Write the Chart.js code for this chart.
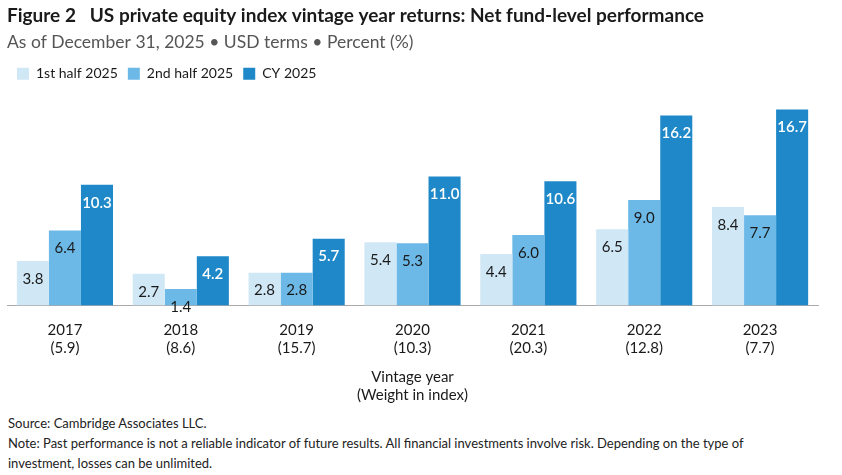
<!DOCTYPE html>
<html>
<head>
<meta charset="utf-8">
<script src="https://cdn.jsdelivr.net/npm/chart.js@4"></script>
<style>
  body { margin: 0; background: #fff; font-family: Lato, sans-serif; }
  #wrap { position: absolute; left: 0; top: 0; width: 842px; height: 405px; }
  .note { position: absolute; left: 8px; font-size: 13px; color: #222; line-height: 20px; }
</style>
</head>
<body>
<div id="wrap"><canvas id="grafico"></canvas></div>
<div class="note" style="top:413px">Source: Cambridge Associates LLC.<br>Note: Past performance is not a reliable indicator of future results. All financial investments involve risk. Depending on the type of<br>investment, losses can be unlimited.</div>
<script>
const years = ['2017', '2018', '2019', '2020', '2021', '2022', '2023'];
const weights = ['(5.9)', '(8.6)', '(15.7)', '(10.3)', '(20.3)', '(12.8)', '(7.7)'];
const firstHalf = [3.8, 2.7, 2.8, 5.4, 4.4, 6.5, 8.4];
const secondHalf = [6.4, 1.4, 2.8, 5.3, 6.0, 9.0, 7.7];
const fullYear = [10.3, 4.2, 5.7, 11.0, 10.6, 16.2, 16.7];

// etiquetas dentro das barras, perto do topo
const rotulos = {
  id: 'rotulos',
  afterDatasetsDraw(chart) {
    const ctx = chart.ctx;
    ctx.save();
    ctx.textAlign = 'center';
    ctx.textBaseline = 'middle';
    chart.data.datasets.forEach((ds, i) => {
      const meta = chart.getDatasetMeta(i);
      meta.data.forEach((bar, j) => {
        const escuro = i === 2;
        ctx.fillStyle = escuro ? '#fff' : '#1a1a1a';
        ctx.font = (escuro ? '600 ' : '') + '15px Lato, sans-serif';
        ctx.fillText(ds.data[j].toFixed(1), bar.x, bar.y + 18);
      });
    });
    ctx.restore();
  }
};

new Chart(document.getElementById('grafico'), {
  type: 'bar',
  data: {
    labels: years.map((y, i) => [y, weights[i]]),
    datasets: [
      { label: '1st half 2025', data: firstHalf, backgroundColor: '#d0e7f6' },
      { label: '2nd half 2025', data: secondHalf, backgroundColor: '#6cb9e7' },
      { label: 'CY 2025', data: fullYear, backgroundColor: '#1f88c8' }
    ]
  },
  options: {
    responsive: true,
    maintainAspectRatio: false,
    animation: false,
    layout: { padding: { left: 7, right: 24, top: 2, bottom: 0 } },
    datasets: { bar: { categoryPercentage: 0.83, barPercentage: 1.0 } },
    plugins: {
      title: {
        display: true,
        align: 'start',
        text: 'Figure 2   US private equity index vintage year returns: Net fund-level performance',
        color: '#1a1a1a',
        font: { size: 19, weight: 'bold', family: 'Lato, sans-serif' },
        padding: { top: 2, bottom: 5 }
      },
      subtitle: {
        display: true,
        align: 'start',
        text: 'As of December 31, 2025 • USD terms • Percent (%)',
        color: '#555',
        font: { size: 17.5, family: 'Lato, sans-serif' },
        padding: { bottom: 4 }
      },
      legend: {
        position: 'top',
        align: 'start',
        labels: {
          boxWidth: 12,
          boxHeight: 12,
          color: '#1a1a1a',
          font: { size: 14, family: 'Lato, sans-serif' },
          padding: 10
        }
      },
      tooltip: { enabled: false }
    },
    scales: {
      x: {
        grid: { display: false },
        border: { color: '#aaa' },
        ticks: {
          color: '#1a1a1a',
          font: { size: 15, family: 'Lato, sans-serif' },
          padding: 8
        },
        title: {
          display: true,
          text: ['Vintage year', '(Weight in index)'],
          color: '#1a1a1a',
          font: { size: 15, family: 'Lato, sans-serif', lineHeight: 1.25 },
          padding: { top: 2, bottom: 0 }
        }
      },
      y: {
        display: false,
        min: 0,
        max: 18.3
      }
    }
  },
  plugins: [rotulos]
});
</script>
</body>
</html>
